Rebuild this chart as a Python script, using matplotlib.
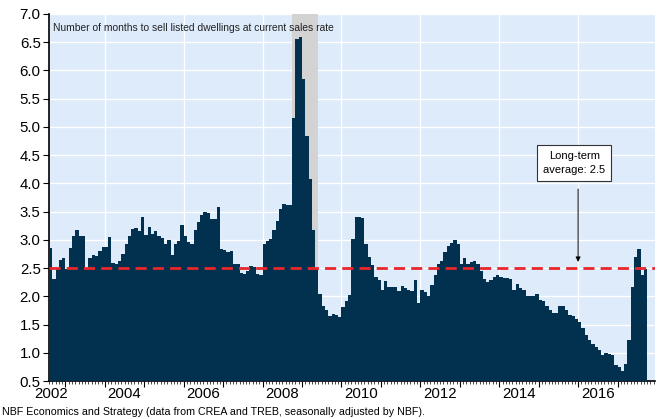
import matplotlib
matplotlib.use('Agg')
import matplotlib.pyplot as plt
import numpy as np

plt.rcParams['font.family'] = ['Liberation Sans', 'DejaVu Sans']

#################################################
#                     DATA                      #
#################################################
# monthly, Aug 2002 -> Sep 2017
start_year = 2002
start_month = 8
months_to_sell = [
    2.85, 2.30, 2.50, 2.64, 2.67, 2.48, 2.85, 3.07, 3.17, 3.07,
    3.07, 2.50, 2.67, 2.74, 2.72, 2.80, 2.88, 2.87, 3.05, 2.59,
    2.57, 2.63, 2.75, 2.93, 3.07, 3.19, 3.21, 3.16, 3.41, 3.08,
    3.22, 3.11, 3.16, 3.06, 3.04, 2.93, 2.99, 2.74, 2.93, 2.98,
    3.26, 3.07, 2.97, 2.93, 3.18, 3.32, 3.44, 3.49, 3.48, 3.37,
    3.37, 3.59, 2.84, 2.82, 2.78, 2.80, 2.57, 2.57, 2.41, 2.40,
    2.44, 2.54, 2.52, 2.40, 2.37, 2.92, 2.98, 3.02, 3.18, 3.33,
    3.55, 3.64, 3.61, 3.61, 5.15, 6.55, 6.60, 5.85, 4.84, 4.08,
    3.17, 2.50, 2.04, 1.83, 1.76, 1.66, 1.68, 1.67, 1.63, 1.81,
    1.92, 2.02, 3.01, 3.40, 3.40, 3.39, 2.92, 2.70, 2.55, 2.34,
    2.29, 2.12, 2.27, 2.17, 2.17, 2.16, 2.10, 2.19, 2.14, 2.12,
    2.09, 2.29, 1.88, 2.11, 2.07, 2.01, 2.20, 2.38, 2.58, 2.62,
    2.78, 2.89, 2.94, 2.99, 2.92, 2.58, 2.68, 2.57, 2.60, 2.63,
    2.57, 2.44, 2.31, 2.25, 2.29, 2.34, 2.38, 2.35, 2.32, 2.32,
    2.31, 2.11, 2.21, 2.14, 2.11, 2.01, 2.01, 2.00, 2.04, 1.93,
    1.91, 1.83, 1.76, 1.70, 1.71, 1.82, 1.83, 1.76, 1.67, 1.65,
    1.59, 1.55, 1.43, 1.31, 1.23, 1.15, 1.11, 1.05, 0.96, 0.99,
    0.97, 0.96, 0.78, 0.74, 0.68, 0.80, 1.23, 2.17, 2.70, 2.84,
    2.37, 2.48,
]
long_term_avg = 2.5
recession = (2008 + 9/12, 2009 + 5/12)   # shaded period
year_labels = [2002, 2004, 2006, 2008, 2010, 2012, 2014, 2016]
yticks = np.arange(0.5, 7.01, 0.5)

title_txt = 'Number of months to sell listed dwellings at current sales rate'
source_txt = 'NBF Economics and Strategy (data from CREA and TREB, seasonally adjusted by NBF).'
box_txt = 'Long-term\naverage: 2.5'

#################################################
#                     PLOT                      #
#################################################
BG = '#DEEBFB'
BAR = '#02314F'

n = len(months_to_sell)
x0 = start_year + (start_month - 1) / 12
x = x0 + np.arange(n) / 12

fig = plt.figure(figsize=(6.62, 4.19), dpi=100)
ax = fig.add_axes([49/662, 1 - 381/419, 606/662, 367/419])
ax.set_facecolor(BG)

ax.bar(x, months_to_sell, width=1/12, align='edge', color=BAR, linewidth=0, zorder=3)
ax.axvspan(recession[0], recession[1], color='#D3D3D3', lw=0, zorder=2)
ax.axhline(long_term_avg, color='#E8262B', lw=2, dashes=(4, 2.2), zorder=4)

ax.set_xlim(x0, 2017.95)
ax.set_ylim(0.5, 7.0)

# grid
for yy in yticks[1:]:
    ax.axhline(yy, color='white', lw=1, zorder=1)
for yr in range(2004, 2018, 2):
    ax.axvline(yr, color='white', lw=1, zorder=1)

ax.set_yticks(yticks)
ax.set_yticklabels(['%.1f' % v for v in yticks], fontsize=10.8)
ax.tick_params(axis='y', length=4, width=0.8, pad=2)

# year ticks + month minor ticks, labels centred in year
ax.set_xticks(range(2003, 2018))
ax.set_xticklabels([])
ax.set_xticks(np.arange(x0, 2017.95, 1/12), minor=True)
ax.tick_params(axis='x', which='major', length=4, width=0.8)
ax.tick_params(axis='x', which='minor', length=2, width=0.5)
for yr in year_labels:
    ax.text(max(yr + 0.5, x0 + 0.05), 0.5 - 0.1, str(yr), ha='center', va='top',
            fontsize=10.8, clip_on=False)

for s in ['top', 'right']:
    ax.spines[s].set_visible(False)
ax.spines['left'].set_linewidth(1.2)
ax.spines['bottom'].set_linewidth(1.2)

ax.text(0.006, 0.975, title_txt, transform=ax.transAxes, fontsize=7.4,
        ha='left', va='top', color='#222222', zorder=6)

# long-term average annotation
ax.annotate('', xy=(2016.0, 2.56), xytext=(2016.0, 3.95),
            arrowprops=dict(arrowstyle='-|>', color='black', lw=0.7,
                            mutation_scale=7), zorder=6)
ax.text(2015.9, 4.36, box_txt, ha='center', va='center', fontsize=8,
        linespacing=1.45, zorder=6,
        bbox=dict(boxstyle='square,pad=0.55', fc='white', ec='#333333', lw=0.8))

fig.text(2/662, 1 - 412/419, source_txt, fontsize=7.7, ha='left', va='center')

fig.savefig('out.png', dpi=100)
